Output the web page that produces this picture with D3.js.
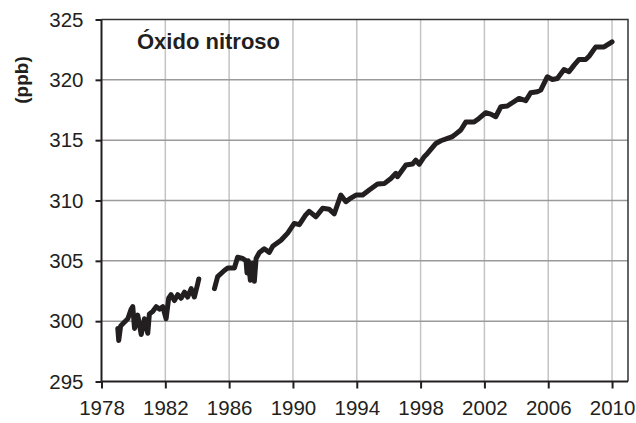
<!DOCTYPE html>
<html>
<head>
<meta charset="utf-8">
<script src="https://d3js.org/d3.v7.min.js"></script>
<style>
  body { margin: 0; background: #fff; }
  text { font-family: Arial, "Liberation Sans", sans-serif; fill: #231f20; }
</style>
</head>
<body>
<div id="chart"></div>
<script>
// Data (ppb of N2O by decimal year); null = gap in record
var years = [1979.02, 1979.08, 1979.2, 1979.35, 1979.65, 1979.86, 1979.96, 1980.07, 1980.27, 1980.49,
  1980.69, 1980.9, 1981.0, 1981.21, 1981.43, 1981.63, 1981.84, 1982.05, 1982.21, 1982.36,
  1982.57, 1982.78, 1982.99, 1983.2, 1983.4, 1983.62, 1983.82, 1984.03, 1984.1, 1984.6,
  1985.08, 1985.28, 1985.7, 1985.91, 1986.33, 1986.53, 1986.85, 1987.06, 1987.12, 1987.2,
  1987.33, 1987.48, 1987.58, 1987.69, 1987.9, 1988.2, 1988.52, 1988.73, 1989.25, 1989.67,
  1990.08, 1990.4, 1990.8, 1991.02, 1991.44, 1991.86, 1992.28, 1992.59, 1993.0, 1993.32,
  1993.63, 1993.95, 1994.37, 1994.78, 1995.3, 1995.72, 1996.14, 1996.45, 1996.55, 1997.08,
  1997.49, 1997.7, 1997.91, 1998.23, 1998.43, 1998.96, 1999.27, 1999.69, 2000.0, 2000.1,
  2000.52, 2000.83, 2001.35, 2001.66, 2002.08, 2002.4, 2002.71, 2003.03, 2003.44, 2003.75,
  2004.17, 2004.59, 2004.9, 2005.31, 2005.53, 2005.94, 2006.26, 2006.57, 2006.99, 2007.3,
  2007.62, 2007.93, 2008.35, 2008.56, 2008.98, 2009.5, 2010.0];

var n2o = [299.4, 298.4, 299.6, 299.8, 300.2, 301.0, 301.2, 299.4, 300.5, 298.9,
  300.2, 299.0, 300.6, 300.8, 301.2, 301.0, 301.2, 300.2, 301.9, 302.2,
  301.7, 302.2, 301.9, 302.4, 302.0, 302.7, 302.0, 303.1, 303.5, null,
  302.7, 303.7, 304.2, 304.4, 304.4, 305.3, 305.2, 305.0, 304.0, 305.0,
  303.4, 304.8, 303.3, 305.2, 305.7, 306.0, 305.7, 306.2, 306.7, 307.3,
  308.1, 308.0, 308.8, 309.1, 308.65, 309.35, 309.27, 308.9, 310.45, 309.9,
  310.2, 310.45, 310.45, 310.87, 311.36, 311.4, 311.83, 312.25, 311.97, 312.94,
  313.02, 313.35, 313.0, 313.63, 313.9, 314.73, 314.95, 315.15, 315.3, 315.4,
  315.84, 316.5, 316.5, 316.8, 317.27, 317.16, 316.94, 317.77, 317.83, 318.1,
  318.46, 318.27, 318.93, 319.01, 319.15, 320.25, 320.03, 320.11, 320.86, 320.67,
  321.22, 321.69, 321.69, 321.96, 322.73, 322.73, 323.15];

var xTicks = [1978, 1982, 1986, 1990, 1994, 1998, 2002, 2006, 2010];
var yTicks = [295, 300, 305, 310, 315, 320, 325];

var title = "Óxido nitroso";
var yLabel = "(ppb)";

// svg size
var svgWidth = 636;
var svgHeight = 423;

var margin = { top: 19.5, right: 8, bottom: 41.5, left: 101.5 };
var width = svgWidth - margin.left - margin.right;
var height = svgHeight - margin.top - margin.bottom;

var svg = d3.select("#chart")
  .append("svg")
  .attr("width", svgWidth)
  .attr("height", svgHeight);

var chartGroup = svg.append("g")
  .attr("transform", `translate(${margin.left}, ${margin.top})`);

var data = years.map((y, i) => ({ year: y, value: n2o[i] }));

var xScale = d3.scaleLinear().domain([1978, 2011]).range([0, width]);
var yScale = d3.scaleLinear().domain([295, 325]).range([height, 0]);

// vertical gridlines
chartGroup.append("g")
  .selectAll("line")
  .data(xTicks.filter(d => d > 1978))
  .enter()
  .append("line")
  .attr("x1", d => xScale(d))
  .attr("x2", d => xScale(d))
  .attr("y1", 0)
  .attr("y2", height)
  .attr("stroke", "#c4c4c4")
  .attr("stroke-width", 1.5);

// horizontal gridlines
chartGroup.append("g")
  .selectAll("line")
  .data(yTicks.filter(d => d > 295 && d < 325))
  .enter()
  .append("line")
  .attr("x1", 0)
  .attr("x2", width)
  .attr("y1", d => yScale(d))
  .attr("y2", d => yScale(d))
  .attr("stroke", "#9a9a9a")
  .attr("stroke-width", 1.5);

// top / right frame
chartGroup.append("path")
  .attr("d", `M0,0H${width}V${height}`)
  .attr("fill", "none")
  .attr("stroke", "#333")
  .attr("stroke-width", 1.5);

// axes
var bottomAxis = d3.axisBottom(xScale).tickValues(xTicks).tickFormat(d3.format("d"))
  .tickSizeInner(7).tickSizeOuter(0).tickPadding(12);
var leftAxis = d3.axisLeft(yScale).tickValues(yTicks)
  .tickSizeInner(6).tickSizeOuter(0).tickPadding(12);

var xAxis = chartGroup.append("g")
  .attr("transform", `translate(0, ${height})`)
  .call(bottomAxis);

var yAxis = chartGroup.append("g")
  .call(leftAxis);

[xAxis, yAxis].forEach(function(ax) {
  ax.select(".domain").attr("stroke", "#231f20").attr("stroke-width", 2);
  ax.selectAll(".tick line").attr("stroke", "#231f20").attr("stroke-width", 2);
  ax.selectAll(".tick text")
    .style("font-family", "Arial, 'Liberation Sans', sans-serif")
    .style("font-size", "20.5px")
    .attr("fill", "#231f20");
});
xAxis.select(".domain").attr("d", `M0,0H${width}`);
yAxis.select(".domain").attr("d", `M0,${height}V0`);

// the series
var line = d3.line()
  .defined(d => d.value !== null)
  .x(d => xScale(d.year))
  .y(d => yScale(d.value));

chartGroup.append("path")
  .datum(data)
  .attr("d", line)
  .attr("fill", "none")
  .attr("stroke", "#231f20")
  .attr("stroke-width", 5)
  .attr("stroke-linejoin", "round")
  .attr("stroke-linecap", "round");

// title
chartGroup.append("text")
  .attr("x", 35.5)
  .attr("y", 29.5)
  .style("font-size", "22px")
  .style("font-weight", "bold")
  .text(title);

// y label
svg.append("text")
  .attr("transform", "translate(28, 80) rotate(-90)")
  .attr("text-anchor", "middle")
  .style("font-size", "19px")
  .style("font-weight", "bold")
  .text(yLabel);
</script>
</body>
</html>
